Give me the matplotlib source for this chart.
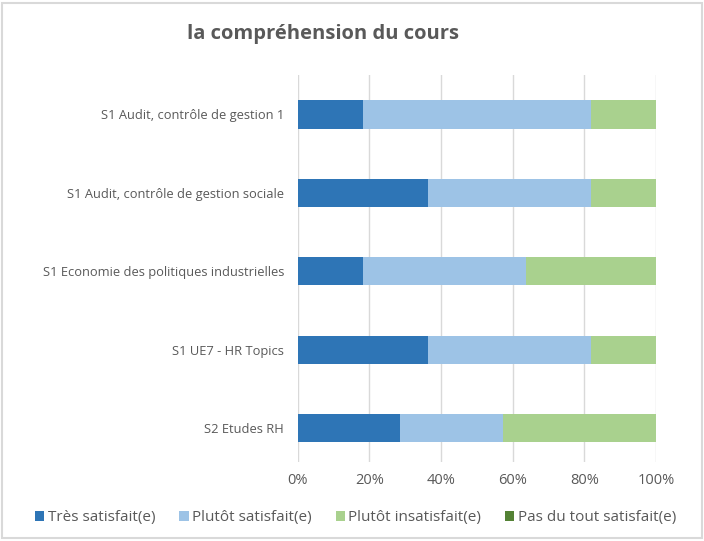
import matplotlib.pyplot as plt
import numpy as np

plt.rcParams['font.family'] = ['Open Sans', 'DejaVu Sans']

categories = ["S1 Audit, contrôle de gestion 1",
              "S1 Audit, contrôle de gestion sociale",
              "S1 Economie des politiques industrielles",
              "S1 UE7 - HR Topics",
              "S2 Etudes RH"]
series = ["Très satisfait(e)", "Plutôt satisfait(e)",
          "Plutôt insatisfait(e)", "Pas du tout satisfait(e)"]
tres = [18.2, 36.4, 18.2, 36.4, 28.6]
plutot_sat = [63.6, 45.5, 45.5, 45.5, 28.6]
plutot_insat = [18.2, 18.2, 36.4, 18.2, 42.9]
pas_du_tout = [0, 0, 0, 0, 0]
colors = ['#2E75B6', '#9DC3E6', '#A9D18E', '#548235']

fig = plt.figure(figsize=(7.04, 5.41), dpi=100)
ax = fig.add_axes([0.423, 0.146, 0.509, 0.715])

y = np.arange(len(categories))
left = np.zeros(len(categories))
for vals, name, c in zip([tres, plutot_sat, plutot_insat, pas_du_tout], series, colors):
    ax.barh(y, vals, left=left, height=0.36, color=c, label=name, zorder=3)
    left += np.array(vals)

ax.set_ylim(4.43, -0.5)
ax.set_xlim(0, 100)
ax.set_yticks(y)
ax.set_yticklabels(categories, fontsize=9.3, color='#595959')
ax.set_xticks(np.arange(0, 101, 20))
ax.set_xticklabels([f"{v}%" for v in range(0, 101, 20)], fontsize=10.5, color='#595959')
ax.tick_params(length=0, pad=8)
ax.tick_params(axis='y', pad=10)
ax.grid(axis='x', color='#D9D9D9', linewidth=1, zorder=0)
for s in ax.spines.values():
    s.set_visible(False)

fig.text(0.459, 0.937, "la compréhension du cours", ha='center', va='center',
         fontsize=14.5, color='#595959', fontweight='bold')

fig.legend(loc='center', bbox_to_anchor=(0.505, 0.043), ncol=4, frameon=False,
           fontsize=11, handlelength=0.6, handleheight=0.6, columnspacing=1.6,
           handletextpad=0.2, labelcolor='#595959')

fig.patches.append(plt.Rectangle((0.003, 0.005), 0.994, 0.99, transform=fig.transFigure,
                                 fill=False, edgecolor='#D9D9D9', linewidth=1.5))

fig.savefig("out.png", dpi=100)
